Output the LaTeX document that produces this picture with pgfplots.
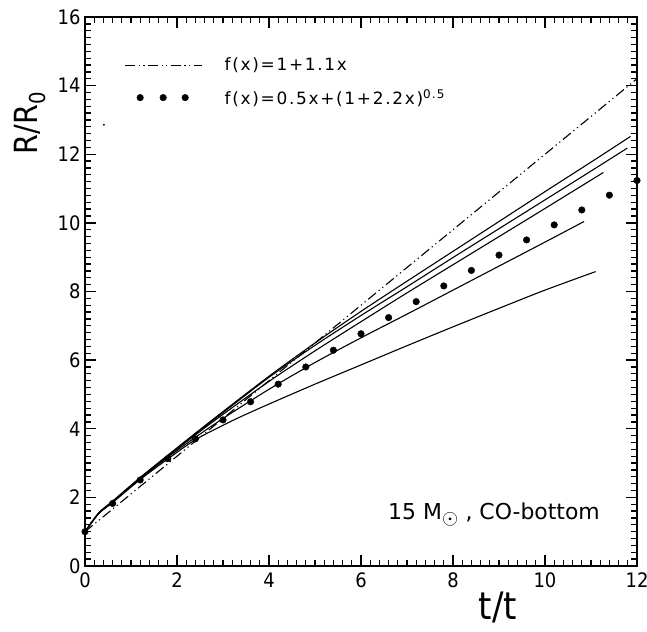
\documentclass[border=0pt]{standalone}
\usepackage{fontspec}
\setmainfont{DejaVu Sans}
\newfontfamily\cond{DejaVu Sans Condensed}
\newfontfamily\legfont[LetterSpace=10]{DejaVu Sans}
\usepackage{pgfplots}
\pgfplotsset{compat=1.18}
\begin{document}
\begin{tikzpicture}
\useasboundingbox (-85bp,-66bp) rectangle (562bp,566bp);
\begin{axis}[
  at={(0,0)}, anchor=south west,
  scale only axis,
  axis on top,
  width=552bp, height=549bp,
  xmin=0, xmax=12, ymin=0, ymax=16,
  xtick={0,2,4,6,8,10,12}, ytick={0,2,4,6,8,10,12,14,16},
  xticklabels={0,2,4,6,8,10,12},
  yticklabels={0,2,4,6,8,10,12,14,16},
  minor x tick num=9, minor y tick num=9,
  tick align=inside,
  major tick length=11bp, minor tick length=6bp,
  tick style={black, line width=1.3bp},
  axis line style={line width=2.4bp},
  ticklabel style={font=\cond\fontsize{20}{20}\selectfont},
  xticklabel style={yshift=-3bp},
  yticklabel style={xshift=-1bp},
  xlabel={t/t},
  xlabel style={font=\cond\fontsize{38}{38}\selectfont, at={(axis description cs:0.748,-0.075)}, anchor=center},
  ylabel={R/R$_{\mbox{\fontsize{22}{22}\selectfont 0}}$},
  ylabel style={font=\cond\fontsize{32}{32}\selectfont, at={(axis description cs:-0.1,0.807)}, anchor=center, rotate=0},
  legend style={draw=none, fill=none, at={(axis description cs:0.066,0.933)}, anchor=north west,
    font=\legfont\fontsize{17}{17}\selectfont, row sep=13bp,
    /tikz/every odd column/.append style={column sep=20bp}},
  legend cell align=left,
]
% f(x)=1+1.1x
\addplot[black, line width=1.1bp, dash pattern=on 10bp off 3.5bp on 1.2bp off 3.5bp on 1.2bp off 3.5bp,
  legend image code/.code={\draw (0bp,0bp) -- (77bp,0bp);}]
  coordinates {(0,1) (12,14.2)};
\addlegendentry{f(x)=1+1.1x}
% f(x)=0.5x+(1+2.2x)^0.5
\addplot[draw=none, mark=*, mark size=3.3bp, mark options={black, fill=black},
  legend image code/.code={\draw[draw=none] plot coordinates {(15bp,0bp) (38bp,0bp) (60bp,0bp)};}]
  coordinates {
  (0,1) (0.6,1.823) (1.2,2.508) (1.8,3.127) (2.4,3.706) (3.0,4.257)
  (3.6,4.787) (4.2,5.300) (4.8,5.800) (5.4,6.289) (6.0,6.768) (6.6,7.240)
  (7.2,7.704) (7.8,8.162) (8.4,8.614) (9.0,9.061) (9.6,9.503) (10.2,9.941)
  (10.8,10.376) (11.4,10.807) (12.0,11.234)};
\addlegendentry{f(x)=0.5x+(1+2.2x)$^{\mbox{\legfont\fontsize{12}{12}\selectfont 0.5}}$}
% solid model curves
\addplot[black, line width=1.1bp, smooth, forget plot] coordinates {
 (0,1) (0.3,1.55) (0.6,1.89) (1.2,2.58) (1.8,3.23) (2.4,3.87) (3,4.5) (4,5.53)
 (5,6.5) (6,7.42) (7,8.3) (8,9.17) (9,10.04) (10,10.91) (11,11.77) (11.86,12.52)};
\addplot[black, line width=1.1bp, smooth, forget plot] coordinates {
 (0,1) (0.3,1.54) (0.6,1.88) (1.2,2.57) (1.8,3.21) (2.4,3.85) (3,4.47) (4,5.5)
 (5,6.43) (6,7.3) (7,8.14) (8,8.99) (9,9.83) (10,10.67) (11,11.51) (11.79,12.18)};
\addplot[black, line width=1.1bp, smooth, forget plot] coordinates {
 (0,1) (0.3,1.54) (0.6,1.87) (1.2,2.56) (1.8,3.2) (2.4,3.82) (3,4.42) (4,5.38)
 (5,6.27) (6,7.12) (7,7.96) (8,8.78) (9,9.6) (10,10.42) (11.27,11.47)};
\addplot[black, line width=1.1bp, smooth, forget plot] coordinates {
 (0,1) (0.3,1.53) (0.6,1.86) (1.2,2.54) (1.8,3.17) (2.4,3.75) (3,4.3) (4,5.15)
 (5,5.93) (6,6.65) (7,7.34) (8,8.04) (9,8.74) (10,9.44) (10.85,10.04)};
\addplot[black, line width=1.1bp, smooth, forget plot] coordinates {
 (0,1) (0.3,1.53) (0.6,1.85) (1.2,2.52) (1.8,3.12) (2.4,3.68) (3,4.1) (3.4,4.36) (4,4.72)
 (5,5.3) (6,5.86) (7,6.42) (8,6.97) (9,7.51) (10,8.04) (11.1,8.58)};
% stray dot
\addplot[draw=none, mark=*, mark size=0.7bp, mark options={black, fill=black}, forget plot] coordinates {(0.41,12.86)};
\node[font=\fontsize{22}{22}\selectfont, anchor=center] at (axis description cs:0.741,0.093)
  {15 M$_{\textstyle\odot}$ , CO-bottom};
\node[font=\cond\fontsize{17}{17}\selectfont, anchor=north] at (axis description cs:0.808,-0.098) {u};
\end{axis}
\end{tikzpicture}
\end{document}
